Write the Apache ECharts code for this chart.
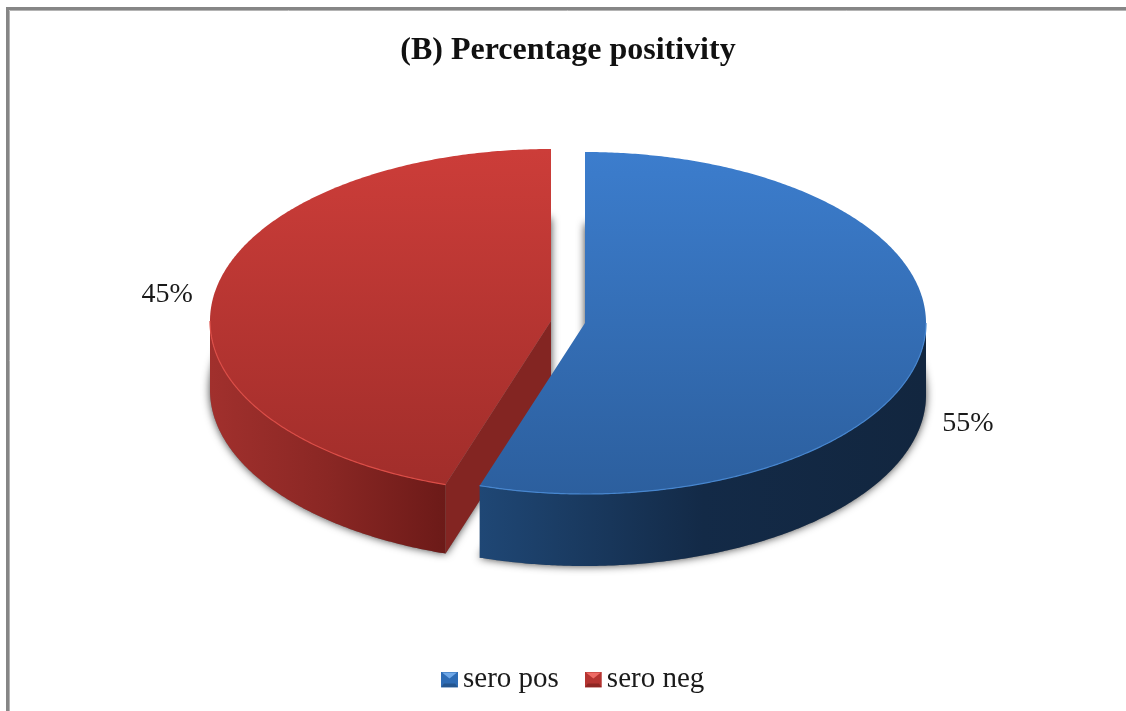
<!DOCTYPE html>
<html>
<head>
<meta charset="utf-8">
<style>html,body{margin:0;padding:0;background:#fff}#chart{width:1126px;height:711px}</style>
<script src="https://cdn.jsdelivr.net/npm/echarts@6/dist/echarts.min.js"></script>
</head>
<body>
<div id="chart"></div>
<script>
// Share of sero-positive and sero-negative samples
const categories = ['sero pos', 'sero neg'];
const percentages = [55, 45];
const titleText = '(B) Percentage positivity';

// Look of each slice: wedge apex, radii, height, label offset, and face colours
const sliceStyles = [
  { cx: 585, cy: 323, ry: 171, depth: 72, labelDx: 46, labelDy: 74,
    top: ['#3c7dcd', '#2c5f9e'], rim: '#4786cf',
    wall: ['#1f4775', '#132a47', '#12263f'], cut: '#1b3a60', swatch: ['#6fa8e8', '#2e6cb5', '#245690'] },
  { cx: 551, cy: 321, ry: 172, depth: 69, labelDx: -47, labelDy: 1,
    top: ['#cc3d39', '#a02d2a'], rim: '#dc4d47',
    wall: ['#a1302d', '#8a2724', '#6c1a18'], cut: '#832522', swatch: ['#ee6a64', '#b53431', '#8e2623'] }
];
const radiusX = 341;
const fontFamily = '"Liberation Serif", "Times New Roman", serif';

const total = percentages.reduce((a, b) => a + b, 0);

// Point on the tilted rim; the angle runs clockwise from twelve o'clock
function rimPoint(s, deg, dy) {
  const t = deg * Math.PI / 180;
  return [s.cx + radiusX * Math.sin(t), s.cy - s.ry * Math.cos(t) + (dy || 0)];
}

function arcPoints(s, from, to, dy) {
  const pts = [];
  const steps = Math.max(2, Math.ceil(Math.abs(to - from) * 2));
  for (let i = 0; i <= steps; i++) {
    pts.push(rimPoint(s, from + (to - from) * i / steps, dy));
  }
  return pts;
}

// One slice of the extruded pie, built from its share of the total
function renderSlice(sliceIndex) {
  return function () {
    const s = sliceStyles[sliceIndex];
    const before = percentages.slice(0, sliceIndex).reduce((a, b) => a + b, 0);
    const from = before / total * 360;
    const to = (before + percentages[sliceIndex]) / total * 360;
    const mid = (from + to) / 2;
    const children = [];
    const rim = arcPoints(s, from, to, 0);
    const apex = [s.cx, s.cy];

    // Soft shadow cast by the underside
    children.push({
      type: 'polygon',
      shape: { points: [[s.cx, s.cy + s.depth]].concat(arcPoints(s, from, to, s.depth)) },
      style: { fill: '#777', shadowBlur: 9, shadowColor: 'rgba(0,0,0,0.75)' }
    });

    // Curved outer wall: only the part of the rim facing the viewer
    const wallFrom = Math.max(from, 90);
    const wallTo = Math.min(to, 270);
    if (wallTo > wallFrom) {
      const upper = arcPoints(s, wallFrom, wallTo, 0);
      const lower = arcPoints(s, wallFrom, wallTo, s.depth).reverse();
      const xs = upper.map(p => p[0]);
      children.push({
        type: 'polygon',
        shape: { points: upper.concat(lower) },
        style: {
          fill: {
            type: 'linear', global: true, x: Math.min(...xs), y: 0, x2: Math.max(...xs), y2: 0,
            colorStops: s.wall.map((color, i) => ({ offset: i / (s.wall.length - 1), color }))
          }
        }
      });
    }

    // Flat cut face turned towards the viewer
    if (from > 0) {
      const corner = rimPoint(s, from, 0);
      children.push({
        type: 'polygon',
        shape: {
          points: [apex, corner, [corner[0], corner[1] + s.depth], [apex[0], apex[1] + s.depth]]
        },
        style: { fill: s.cut }
      });
    }

    // Top face with its lit bevel
    children.push({
      type: 'polygon',
      shape: { points: [apex].concat(rim) },
      style: {
        fill: {
          type: 'linear', global: true, x: 0, y: s.cy - s.ry, x2: 0, y2: s.cy + s.ry,
          colorStops: [{ offset: 0, color: s.top[0] }, { offset: 1, color: s.top[1] }]
        }
      }
    });
    children.push({
      type: 'polyline',
      shape: { points: arcPoints(s, wallFrom, wallTo, 0) },
      style: { fill: 'none', stroke: s.rim, lineWidth: 1.2 }
    });

    // Percentage label beside the slice
    const anchor = rimPoint(s, mid, 0);
    children.push({
      type: 'text',
      style: {
        x: anchor[0] + s.labelDx, y: anchor[1] + s.labelDy,
        text: percentages[sliceIndex] + '%',
        fill: '#1a1a1a', font: '28px ' + fontFamily,
        textAlign: 'center', textVerticalAlign: 'middle'
      }
    });
    return { type: 'group', children };
  };
}

// Small bevelled legend swatch, lit from above
function swatchIcon(colors) {
  const svg = '<svg xmlns="http://www.w3.org/2000/svg" width="17" height="16">' +
    '<rect width="17" height="16" fill="' + colors[1] + '"/>' +
    '<path d="M1 1H16L8.5 7Z" fill="' + colors[0] + '"/>' +
    '<path d="M0 16H17L14 12H3Z" fill="' + colors[2] + '"/></svg>';
  return 'image://data:image/svg+xml;charset=utf-8,' + encodeURIComponent(svg);
}

const chart = echarts.init(document.getElementById('chart'), null, { renderer: 'canvas' });
chart.setOption({
  animation: false,
  backgroundColor: '#ffffff',
  title: {
    text: titleText,
    left: 563, top: 30, textAlign: 'center',
    textStyle: { fontFamily, fontSize: 32, fontWeight: 'bold', color: '#111' }
  },
  legend: {
    data: categories.map((name, i) => ({ name, icon: swatchIcon(sliceStyles[i].swatch) })),
    left: 436, top: 660,
    itemWidth: 17, itemHeight: 16, itemGap: 26,
    selectedMode: false,
    textStyle: { fontFamily, fontSize: 29, color: '#1a1a1a', padding: [0, 0, 0, 0] }
  },
  graphic: [{
    type: 'polyline',
    silent: true,
    shape: { points: [[9.5, 711], [9.5, 10.5], [1126, 10.5]] },
    style: { fill: 'none', stroke: '#b4b4b4', lineWidth: 1 }
  }, {
    type: 'polyline',
    silent: true,
    shape: { points: [[7.5, 711], [7.5, 8.5], [1126, 8.5]] },
    style: { fill: 'none', stroke: '#868686', lineWidth: 3 }
  }],
  series: [1, 0].map(i => ({
    type: 'custom',
    name: categories[i],
    coordinateSystem: 'none',
    silent: true,
    data: [percentages[i]],
    itemStyle: { color: sliceStyles[i].top[0] },
    renderItem: renderSlice(i)
  }))
});
</script>
</body>
</html>
